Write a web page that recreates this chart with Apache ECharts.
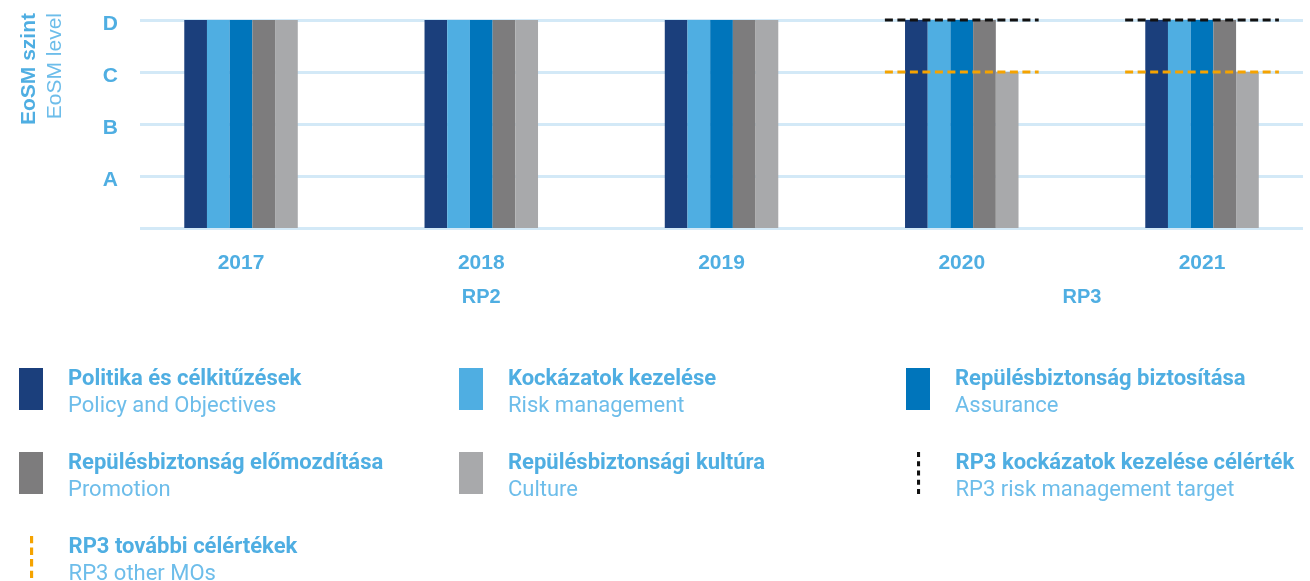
<!DOCTYPE html>
<html><head><meta charset="utf-8">
<script src="https://cdn.jsdelivr.net/npm/echarts@6/dist/echarts.min.js"></script>
<style>html,body{margin:0;padding:0;background:#fff}#c{width:1310px;height:581px}</style>
</head><body><div id="c"></div>
<script>
// ---- data ----
const years = ['2017', '2018', '2019', '2020', '2021'];
const levelLabels = ['', 'A', 'B', 'C', 'D'];
const seriesHu = ['Politika és célkitűzések', 'Kockázatok kezelése', 'Repülésbiztonság biztosítása', 'Repülésbiztonság előmozdítása', 'Repülésbiztonsági kultúra'];
const seriesEn = ['Policy and Objectives', 'Risk management', 'Assurance', 'Promotion', 'Culture'];
const policy    = ['D', 'D', 'D', 'D', 'D'];
const risk      = ['D', 'D', 'D', 'D', 'D'];
const assurance = ['D', 'D', 'D', 'D', 'D'];
const promotion = ['D', 'D', 'D', 'D', 'D'];
const culture   = ['D', 'D', 'D', 'C', 'C'];
const targetHu = ['RP3 kockázatok kezelése célérték', 'RP3 további célértékek'];
const targetEn = ['RP3 risk management target', 'RP3 other MOs'];
const rp3RiskTarget  = [null, null, null, 'D', 'D'];
const rp3OtherTarget = [null, null, null, 'C', 'C'];
const periods = [{ label: 'RP2', years: ['2018'] }, { label: 'RP3', years: ['2020', '2021'] }];
const yAxisTitle = ['EoSM szint', 'EoSM level'];

// ---- styles ----
const barColors = ['#1B3F7C', '#4FAEE2', '#0075BB', '#7D7C7D', '#A8A9AB'];
const targetColors = ['#111111', '#F5A300'];
const blue = '#4FAEE2';
const lightBlue = '#6DBDEA';
const gridColor = '#D3E9F7';

const toLevel = v => levelLabels.indexOf(v);
const barData = [policy, risk, assurance, promotion, culture];
const targetData = [rp3RiskTarget, rp3OtherTarget];
const enByName = {};
seriesHu.forEach((n, i) => enByName[n] = seriesEn[i]);
targetHu.forEach((n, i) => enByName[n] = targetEn[i]);

const chart = echarts.init(document.getElementById('c'), null, { renderer: 'canvas' });

const series = barData.map((arr, i) => ({
  type: 'bar', name: seriesHu[i], xAxisIndex: 1, yAxisIndex: 1,
  data: arr.map(toLevel), barWidth: 22.7, barGap: '0%',
  itemStyle: { color: barColors[i] }, z: 2, silent: true
}));
targetData.forEach((arr, i) => {
  series.push({
    type: 'custom', name: targetHu[i], xAxisIndex: 1, yAxisIndex: 1, z: 5, silent: true,
    data: arr.map((v, k) => v ? [k, toLevel(v)] : null).filter(Boolean),
    renderItem: (params, api) => {
      const p = api.coord([api.value(0), api.value(1)]);
      const w = api.size([1, 0])[0] * 0.32;
      return { type: 'line', shape: { x1: p[0] - w, y1: p[1], x2: p[0] + w, y2: p[1] },
        style: { stroke: targetColors[i], lineWidth: 3, lineDash: [8, 4.5] } };
    }
  });
});

const dashIcons = [
  'path://M0,0h3v5h-3z M0,9h3v5h-3z M0,18h3v5h-3z M0,27h3v5h-3z M0,36h3v5h-3z',
  'path://M0,0h3v7h-3z M0,11h3v7h-3z M0,22h3v7h-3z M0,33h3v7h-3z'
];
const legendItems = [
  { name: seriesHu[0], color: barColors[0], col: 0, row: 0 },
  { name: seriesHu[1], color: barColors[1], col: 1, row: 0 },
  { name: seriesHu[2], color: barColors[2], col: 2, row: 0 },
  { name: seriesHu[3], color: barColors[3], col: 0, row: 1 },
  { name: seriesHu[4], color: barColors[4], col: 1, row: 1 },
  { name: targetHu[0], color: targetColors[0], col: 2, row: 1, icon: dashIcons[0] },
  { name: targetHu[1], color: targetColors[1], col: 0, row: 2, icon: dashIcons[1] }
];
const colX = [19, 459, 906];
const rowY = [368, 452, 536];
const legends = legendItems.map(it => ({
  left: colX[it.col] + (it.icon ? 11 : 0), top: rowY[it.row], padding: 0, orient: 'horizontal',
  itemWidth: 24, itemHeight: 42, selectedMode: false,
  data: [{ name: it.name, icon: it.icon || 'rect', itemStyle: { color: it.color } }],
  formatter: n => '{b|' + n + '}\n{e|' + enByName[n] + '}',
  textStyle: {
    padding: [7, 0, 0, 20],
    rich: {
      b: { fontFamily: 'Roboto', fontWeight: 'bold', fontSize: 22, color: blue, lineHeight: 27 },
      e: { fontFamily: 'Roboto', fontWeight: 'normal', fontSize: 22, color: lightBlue, lineHeight: 27 }
    }
  }
}));

chart.setOption({
  animation: false,
  backgroundColor: '#ffffff',
  grid: [
    { left: 140, right: 7, top: 20, height: 208, outerBoundsMode: 'none' },
    { left: 120.9, width: 1201.25, top: 20, height: 208, outerBoundsMode: 'none' }
  ],
  xAxis: [
    { gridIndex: 0, type: 'value', show: false, min: 0, max: 1 },
    { gridIndex: 1, type: 'category', data: years, axisLine: { show: false }, axisTick: { show: false },
      axisLabel: { margin: 25, fontFamily: 'Liberation Sans', fontWeight: 'bold', fontSize: 21, color: blue } }
  ],
  yAxis: [
    { gridIndex: 0, type: 'value', min: 0, max: 4, interval: 1,
      axisLine: { show: false }, axisTick: { show: false },
      splitLine: { show: true, lineStyle: { color: gridColor, width: 3 } },
      axisLabel: { formatter: v => levelLabels[v] ? '{a|' + levelLabels[v] + '}' : '', margin: 22,
        rich: { a: { fontFamily: 'Liberation Sans', fontWeight: 'bold', fontSize: 21, color: blue, padding: [8, 0, 0, 0] } } } },
    { gridIndex: 1, type: 'value', min: 0, max: 4, interval: 1, show: false, splitLine: { show: false } }
  ],
  legend: legends,
  series: series
});

// period labels and axis title
const graphics = [];
periods.forEach(p => {
  const xs = p.years.map(y => chart.convertToPixel({ xAxisIndex: 1 }, y));
  const x = xs.reduce((a, b) => a + b, 0) / xs.length;
  graphics.push({ type: 'text', x: x, y: 297, silent: true,
    style: { text: p.label, fontFamily: 'Liberation Sans', fontWeight: 'bold', fontSize: 20, fill: blue, align: 'center', verticalAlign: 'middle' } });
});
graphics.push({ type: 'text', x: 29, y: 13, rotation: Math.PI / 2, silent: true,
  style: { text: yAxisTitle[0], fontFamily: 'Liberation Sans', fontWeight: 'bold', fontSize: 21, fill: blue, align: 'right', verticalAlign: 'middle' } });
graphics.push({ type: 'text', x: 55, y: 13, rotation: Math.PI / 2, silent: true,
  style: { text: yAxisTitle[1], fontFamily: 'Liberation Sans', fontWeight: 'normal', fontSize: 21, fill: lightBlue, align: 'right', verticalAlign: 'middle' } });
chart.setOption({ graphic: graphics });
</script>
</body></html>
